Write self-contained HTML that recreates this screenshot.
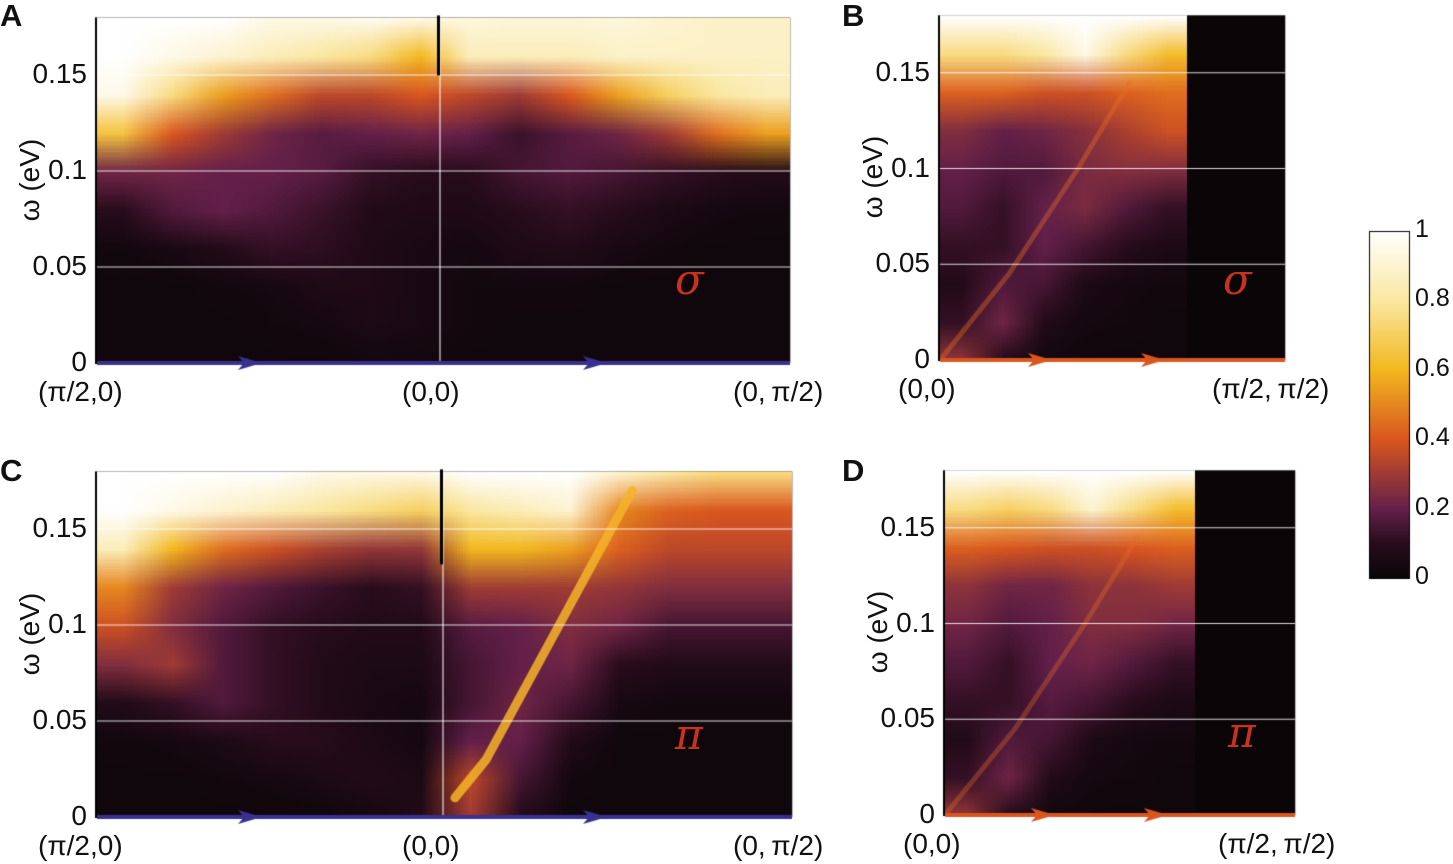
<!DOCTYPE html>
<html><head><meta charset="utf-8"><style>
body{margin:0;background:#fff;width:1453px;height:864px;overflow:hidden;position:relative;font-family:"Liberation Sans",sans-serif}
.t{position:absolute;font-size:28px;color:#111;white-space:nowrap}
canvas{position:absolute;left:0;top:0}
</style></head><body>
<canvas id="cv" width="1453" height="864"></canvas>
<div class="t" style="left:0;top:-2px;font-weight:bold;font-size:31px">A</div>
<div class="t" style="left:842px;top:-2px;font-weight:bold;font-size:31px">B</div>
<div class="t" style="left:0;top:453px;font-weight:bold;font-size:31px">C</div>
<div class="t" style="left:842px;top:453px;font-weight:bold;font-size:31px">D</div>
<div id="labels"></div>
<script>
const omegaRows=[0.18,0.16,0.14,0.12,0.10,0.08,0.06,0.04,0.02,0];
const heatA=[
[1,1,1,0.95,0.95,0.97,0.95,0.93,0.92,0.92,0.93,0.9,0.88,0.88],
[1,0.95,0.9,0.85,0.8,0.75,0.6,0.85,0.85,0.85,0.88,0.88,0.88,0.88],
[0.95,0.75,0.55,0.45,0.35,0.35,0.4,0.35,0.3,0.4,0.55,0.7,0.8,0.85],
[0.65,0.4,0.3,0.22,0.18,0.2,0.22,0.2,0.13,0.18,0.22,0.3,0.45,0.55],
[0.22,0.22,0.2,0.2,0.18,0.12,0.1,0.1,0.15,0.17,0.15,0.12,0.1,0.08],
[0.1,0.17,0.2,0.17,0.13,0.08,0.07,0.07,0.1,0.12,0.1,0.06,0.04,0.03],
[0.03,0.05,0.08,0.12,0.11,0.07,0.05,0.04,0.07,0.08,0.05,0.03,0.02,0.02],
[0.02,0.02,0.03,0.04,0.07,0.07,0.05,0.03,0.03,0.03,0.02,0.02,0.02,0.02],
[0.02,0.02,0.02,0.03,0.04,0.06,0.05,0.03,0.02,0.02,0.02,0.02,0.02,0.02],
[0.02,0.02,0.02,0.02,0.02,0.03,0.03,0.02,0.02,0.02,0.02,0.02,0.02,0.02]];
const heatB=[
[1,1,1,1,1,1],
[0.75,0.75,0.8,0.95,0.75,0.62],
[0.42,0.42,0.38,0.38,0.42,0.45],
[0.25,0.2,0.22,0.26,0.32,0.38],
[0.2,0.17,0.17,0.24,0.26,0.25],
[0.17,0.12,0.2,0.24,0.17,0.12],
[0.12,0.12,0.2,0.15,0.1,0.06],
[0.08,0.17,0.15,0.06,0.04,0.03],
[0.12,0.22,0.08,0.04,0.03,0.02],
[0.28,0.08,0.03,0.02,0.02,0.02]];
const heatC=[
[1,1,1,1,0.95,0.95,0.95,1,1,1,0.9,0.8,0.75,0.75],
[1,0.95,0.9,0.85,0.8,0.75,0.7,0.8,0.85,0.9,0.5,0.42,0.4,0.4],
[0.85,0.6,0.45,0.38,0.32,0.28,0.28,0.6,0.6,0.55,0.42,0.35,0.35,0.35],
[0.5,0.3,0.22,0.17,0.13,0.1,0.12,0.3,0.3,0.3,0.28,0.25,0.25,0.25],
[0.38,0.25,0.17,0.12,0.1,0.08,0.08,0.18,0.2,0.25,0.22,0.15,0.15,0.15],
[0.25,0.3,0.17,0.12,0.08,0.06,0.06,0.15,0.2,0.22,0.1,0.08,0.08,0.08],
[0.08,0.12,0.17,0.12,0.08,0.05,0.04,0.15,0.22,0.15,0.05,0.03,0.03,0.03],
[0.03,0.04,0.06,0.1,0.1,0.06,0.04,0.2,0.2,0.08,0.02,0.02,0.02,0.02],
[0.02,0.02,0.03,0.04,0.06,0.08,0.06,0.35,0.15,0.03,0.02,0.02,0.02,0.02],
[0.02,0.02,0.02,0.02,0.02,0.04,0.08,0.3,0.08,0.02,0.02,0.02,0.02,0.02]];
const heatD=[
[1,1,1,1,1,1],
[0.75,0.7,0.75,0.9,0.75,0.62],
[0.42,0.4,0.38,0.38,0.4,0.42],
[0.27,0.22,0.22,0.27,0.27,0.3],
[0.22,0.17,0.2,0.25,0.25,0.22],
[0.17,0.12,0.2,0.22,0.17,0.12],
[0.12,0.12,0.18,0.15,0.1,0.06],
[0.08,0.17,0.15,0.06,0.04,0.03],
[0.12,0.22,0.08,0.04,0.03,0.02],
[0.28,0.08,0.03,0.02,0.02,0.02]];
const bandCk=[0.515,0.56,0.62,0.68,0.74,0.77];
const bandCw=[0.01,0.03,0.07,0.11,0.15,0.17];
const bandBk=[0.0,0.2,0.4,0.55];
const bandBw=[0.0,0.045,0.1,0.145];
const yTicks=[0,0.05,0.1,0.15];
const yTickLabels=["0","0.05","0.1","0.15"];
const cbTicks=[0,0.2,0.4,0.6,0.8,1];
const cbLabels=["0","0.2","0.4","0.6","0.8","1"];

const stops=[[0,[10,6,8]],[0.1,[40,12,28]],[0.2,[100,32,74]],[0.4,[217,86,31]],[0.6,[242,183,30]],[0.8,[250,231,160]],[1,[255,255,255]]];
function cmap(v){v=Math.max(0,Math.min(1,v));for(let i=1;i<stops.length;i++){if(v<=stops[i][0]){const a=stops[i-1],b=stops[i],t=(v-a[0])/(b[0]-a[0]);return a[1].map((c,j)=>Math.round(c+(b[1][j]-c)*t));}}return [255,255,255];}
const cv=document.getElementById('cv'),ctx=cv.getContext('2d');
const panels=[
 {heat:heatA,x0:97,x1:790,dataX1:790,y0:363,s:1920,xl:["(π/2,0)","(0,0)","(0,&thinsp;π/2)"],xlx:[38,402,733],arrow:"#3a3090",arr:[262,607],mid:440,sym:"σ",sx:690,sy:285},
 {heat:heatB,x0:940,x1:1285,dataX1:1187,y0:360,s:1915,xl:["(0,0)","(π/2,&thinsp;π/2)"],xlx:[898,1212],arrow:"#d9561f",arr:[1052,1165],sym:"σ",sx:1238,sy:285,bk:bandBk,bw:bandBw,bc:"rgba(230,110,40,0.4)",bwid:5},
 {heat:heatC,x0:97,x1:792,dataX1:792,y0:817,s:1920,xl:["(π/2,0)","(0,0)","(0,&thinsp;π/2)"],xlx:[38,402,733],arrow:"#3a3090",arr:[262,607],mid:443,sym:"π",sx:690,sy:740,bk:bandCk,bw:bandCw,bc:"rgba(245,180,40,0.85)",bwid:9},
 {heat:heatD,x0:945,x1:1295,dataX1:1195,y0:815,s:1915,xl:["(0,0)","(π/2,&thinsp;π/2)"],xlx:[903,1218],arrow:"#d9561f",arr:[1055,1168],sym:"π",sx:1243,sy:738,bk:bandBk,bw:bandBw,bc:"rgba(230,110,40,0.35)",bwid:5}];
</script>
<script>
const labels=document.getElementById('labels');
function addLabel(html,css,name){const d=document.createElement('div');d.className='t';d.innerHTML=html;d.style.cssText=css;


labels.appendChild(d);}
panels.forEach((p,pi)=>{
 const yS=w=>p.y0-w*p.s;const top=yS(0.18);
 const rows=p.heat.length,cols=p.heat[0].length;
 const off=document.createElement('canvas');off.width=cols;off.height=rows;const oc=off.getContext('2d');const im=oc.createImageData(cols,rows);
 p.heat.forEach((r,i)=>r.forEach((v,j)=>{const c=cmap(v);const k=(i*cols+j)*4;im.data[k]=c[0];im.data[k+1]=c[1];im.data[k+2]=c[2];im.data[k+3]=255;}));
 oc.putImageData(im,0,0);
 ctx.fillStyle='#0a0608';ctx.fillRect(p.x0,top,p.x1-p.x0,p.y0-top);
 ctx.imageSmoothingEnabled=true;
 const rh=(p.y0-top)/(rows-1);
 ctx.save();ctx.beginPath();ctx.rect(p.x0,top,p.dataX1-p.x0,p.y0-top);ctx.clip();
 ctx.drawImage(off,p.x0,top-rh/2,p.dataX1-p.x0,p.y0-top+rh);ctx.restore();
 if(p.bk){ctx.save();ctx.beginPath();ctx.rect(p.x0,top,p.dataX1-p.x0,p.y0-top);ctx.clip();ctx.strokeStyle=p.bc;ctx.lineWidth=p.bwid;ctx.lineCap='round';ctx.beginPath();
  p.bk.forEach((k,i)=>{const x=p.x0+k*(p.x1-p.x0),y=yS(p.bw[i]);i?ctx.lineTo(x,y):ctx.moveTo(x,y);});ctx.stroke();ctx.restore();}
 ctx.strokeStyle='rgba(255,255,255,0.85)';ctx.lineWidth=1.2;
 yTicks.slice(1).forEach(t=>{ctx.beginPath();ctx.moveTo(p.x0,yS(t));ctx.lineTo(p.x1,yS(t));ctx.stroke();});
 if(p.mid){ctx.beginPath();ctx.moveTo(p.mid,top);ctx.lineTo(p.mid,p.y0);ctx.stroke();ctx.fillStyle='#000';ctx.fillRect(p.mid-3,top-2,3,pi==0?60:95);}
 ctx.fillStyle='#000';ctx.fillRect(p.x0-2,top,2,p.y0-top+1);
 ctx.fillStyle='#bbb';ctx.fillRect(p.x1,top,1,p.y0-top);
 ctx.fillStyle=p.arrow;ctx.fillRect(p.x0,p.y0-2,p.x1-p.x0,4);
 p.arr.forEach(a=>{ctx.beginPath();ctx.moveTo(a,p.y0);ctx.lineTo(a-24,p.y0-7);ctx.lineTo(a-18,p.y0);ctx.lineTo(a-24,p.y0+7);ctx.closePath();ctx.fill();});
 yTicks.forEach((t,i)=>addLabel(yTickLabels[i],'left:'+(p.x0-92)+'px;top:'+(yS(t)-17)+'px;width:82px;text-align:right','y-tick-'+pi+'-'+i));
 addLabel('ω (eV)','left:'+(p.x0-122)+'px;top:'+(yS(0.095)-17)+'px;transform:rotate(-90deg);transform-origin:50% 50%;width:110px;text-align:center','y-axis-title-'+pi);
 p.xl.forEach((l,i)=>addLabel(l,'left:'+p.xlx[i]+'px;top:'+(p.y0+13)+'px','x-tick-'+pi+'-'+i));
 addLabel(p.sym,'left:'+(p.sx-15)+'px;top:'+(p.sy-30)+'px;font-size:42px;font-style:italic;color:#c8321e;font-family:"DejaVu Serif",serif','symmetry-label-'+pi);
});
const cx=1369,cw=40,ct=231,cb=578;
for(let y=ct;y<cb;y++){const c=cmap(1-(y-ct)/(cb-ct));ctx.fillStyle='rgb('+c+')';ctx.fillRect(cx,y,cw,1);}
ctx.strokeStyle='#000';ctx.lineWidth=1;ctx.strokeRect(cx+0.5,ct+0.5,cw,cb-ct);
cbTicks.forEach((t,i)=>{const y=cb-t*(cb-ct);addLabel(cbLabels[i],'left:1415px;top:'+(y-16)+'px;font-size:25px','colorbar-tick-'+i);});
</script>
</body></html>
